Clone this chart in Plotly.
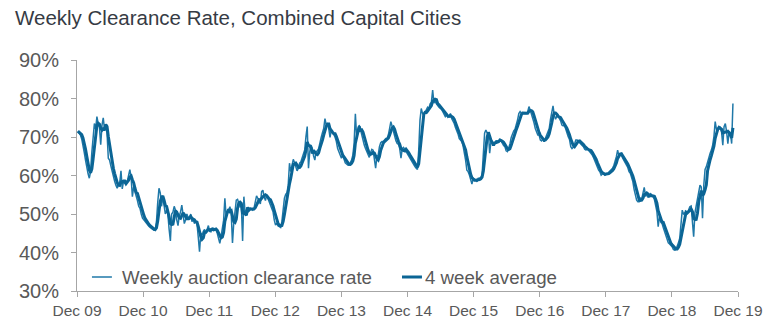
import pandas as pd
import plotly.graph_objects as go

# Weekly auction clearance rate (%), combined capital cities, one list per year of weeks
rate_2010 = [71.5, 71.0, 70.5, 69.5, 68.0, 66.0, 64.0, 62.0, 60.5, 59.3, 61.0, 66.0, 71.0,
             73.5, 72.0, 75.3, 73.5, 72.5, 68.0, 73.0, 75.0, 72.0, 73.0, 71.0, 64.5, 64.0,
             62.5, 61.0, 60.0, 58.5, 57.5, 56.7, 57.5, 58.0, 61.2, 56.5, 58.5, 58.0, 58.5,
             58.5, 60.0, 61.5, 59.5, 54.5, 57.0, 56.0, 55.0, 53.5, 52.0, 51.5, 50.0, 48.9]
rate_2011 = [48.5, 48.0, 47.5, 47.0, 46.8, 46.5, 46.2, 46.0, 45.8, 45.8, 48.0, 53.0, 56.7,
             55.5, 52.0, 54.5, 52.5, 50.0, 51.0, 50.0, 46.0, 43.0, 50.0, 50.5, 52.0, 51.0,
             48.5, 47.0, 49.5, 50.5, 52.3, 49.0, 47.5, 48.5, 50.0, 49.0, 48.5, 50.0, 48.0,
             48.5, 47.5, 48.0, 47.5, 44.0, 40.2, 45.0, 44.5, 45.5, 46.0, 45.0, 46.0, 47.0]
rate_2012 = [45.5, 45.4, 46.3, 46.3, 46.0, 45.8, 45.0, 43.7, 42.4, 44.1, 45.8, 48.4, 54.1,
             49.3, 50.2, 51.2, 51.9, 50.2, 42.5, 47.6, 51.0, 53.6, 53.8, 53.0, 51.9, 52.2,
             43.0, 54.5, 50.2, 51.0, 51.2, 51.5, 51.5, 51.2, 51.0, 51.5, 52.8, 54.7, 54.1,
             53.2, 52.6, 55.8, 56.2, 54.5, 53.5, 54.9, 54.1, 53.2, 52.6, 51.9, 50.6, 48.4]
rate_2013 = [47.1, 47.6, 46.9, 46.7, 46.5, 48.0, 51.0, 54.1, 55.1, 55.5, 57.5, 63.2, 61.0,
             63.2, 64.2, 63.3, 62.1, 61.2, 61.9, 63.2, 63.6, 64.5, 65.3, 66.6, 70.1, 72.7,
             61.9, 66.2, 67.9, 67.0, 65.1, 64.0, 66.2, 66.4, 67.0, 68.8, 69.9, 71.1, 72.2,
             74.8, 73.1, 73.4, 72.2, 69.9, 71.8, 71.1, 70.7, 69.9, 68.8, 67.0, 66.2, 65.3]
rate_2014 = [64.5, 65.3, 64.2, 63.3, 63.0, 62.7, 62.7, 63.2, 64.0, 65.3, 68.3, 76.0, 70.0,
             71.8, 73.1, 72.0, 70.5, 69.4, 67.9, 67.0, 66.2, 65.3, 64.7, 65.9, 66.8, 66.6,
             64.0, 61.9, 64.9, 65.3, 67.5, 68.5, 68.8, 68.8, 69.2, 69.6, 69.6, 70.5, 72.2,
             74.0, 72.8, 71.4, 69.9, 69.0, 68.3, 68.1, 67.0, 64.5, 67.0, 67.3, 66.8, 66.2]
rate_2015 = [65.8, 65.1, 64.5, 63.8, 63.3, 62.7, 62.3, 61.9, 61.6, 66.6, 74.4, 77.4, 76.1,
             75.7, 76.4, 77.2, 77.7, 77.4, 78.6, 79.0, 82.2, 78.8, 79.2, 78.6, 78.0, 77.7,
             77.4, 77.2, 76.6, 75.9, 75.3, 75.7, 75.1, 75.4, 76.1, 74.8, 74.2, 73.5, 72.5,
             71.8, 70.8, 69.6, 69.0, 68.8, 67.7, 66.2, 64.0, 61.4, 61.0, 60.1, 58.8, 57.8]
rate_2016 = [59.3, 59.1, 58.8, 58.4, 59.3, 59.3, 59.5, 60.1, 65.8, 71.0, 71.8, 71.1, 71.0,
             65.8, 68.8, 68.8, 67.9, 68.3, 69.0, 69.0, 68.8, 69.6, 69.0, 68.2, 67.8, 67.5,
             66.4, 66.2, 67.0, 68.2, 69.9, 71.0, 71.6, 72.0, 73.1, 74.4, 76.1, 76.6, 76.1,
             76.1, 76.1, 76.0, 76.1, 76.5, 77.9, 77.0, 76.0, 75.3, 73.7, 72.2, 71.4, 70.5]
rate_2017 = [70.5, 69.2, 69.0, 69.6, 68.8, 69.6, 70.5, 71.1, 72.2, 74.6, 76.6, 78.1, 75.7,
             74.6, 75.4, 75.7, 74.8, 74.2, 73.1, 72.9, 73.1, 72.0, 70.8, 70.1, 69.4, 67.5,
             67.0, 67.3, 68.2, 69.2, 69.2, 69.0, 68.5, 68.2, 67.9, 67.5, 66.8, 66.6, 67.0,
             66.6, 66.4, 65.9, 65.3, 64.6, 63.8, 63.2, 61.9, 61.4, 61.0, 60.1, 60.4, 60.6]
rate_2018 = [60.1, 60.5, 60.5, 60.8, 61.2, 61.4, 61.9, 62.6, 63.6, 64.9, 66.6, 65.1, 65.6,
             65.3, 64.5, 64.0, 63.3, 62.7, 62.1, 61.0, 60.6, 59.5, 58.4, 56.4, 54.9, 53.6,
             53.2, 53.2, 54.1, 53.8, 55.4, 56.9, 54.7, 54.9, 54.3, 54.7, 55.4, 54.7, 54.5,
             53.8, 52.3, 50.6, 46.7, 49.3, 48.0, 47.6, 46.5, 45.4, 44.1, 43.1, 42.5, 42.2]
rate_2019 = [41.9, 41.5, 40.8, 40.6, 40.8, 41.5, 42.5, 43.7, 47.6, 51.0, 50.0, 50.3, 50.6,
             50.2, 51.0, 51.9, 52.1, 47.6, 44.1, 50.3, 52.3, 54.1, 55.8, 57.5, 57.0, 48.9,
             57.5, 61.6, 62.3, 63.6, 64.7, 65.8, 66.6, 67.9, 70.1, 74.0, 72.0, 71.8, 72.2,
             72.7, 71.4, 67.9, 72.7, 73.5, 71.4, 68.3, 71.4, 71.1, 68.3, 78.7]

first_week = "2009-12-06"
tick_dates = ["2009-12-01", "2010-12-01", "2011-12-01", "2012-12-01", "2013-12-01", "2014-12-01",
              "2015-12-01", "2016-12-01", "2017-12-01", "2018-12-01", "2019-12-01"]
tick_text = ["Dec 09", "Dec 10", "Dec 11", "Dec 12", "Dec 13", "Dec 14",
             "Dec 15", "Dec 16", "Dec 17", "Dec 18", "Dec 19"]
y_ticks = [30, 40, 50, 60, 70, 80, 90]
y_tick_text = ["30%", "40%", "50%", "60%", "70%", "80%", "90%"]

weekly = (rate_2010 + rate_2011 + rate_2012 + rate_2013 + rate_2014 + rate_2015
          + rate_2016 + rate_2017 + rate_2018 + rate_2019)
weeks = pd.date_range(first_week, periods=len(weekly), freq="7D")
four_week_avg = pd.Series(weekly).rolling(4, min_periods=1).mean()

FONT = "Liberation Sans, Arial, sans-serif"
THIN = "#1f78a8"
THICK = "#0b6595"
GREY_TXT = "#595959"
AXIS = "#a6a6a6"
THIN_W, THICK_W = 1.5, 3.0

W, H = 775, 335
L, R, T, B = 77, 35, 60, 44
PW, PH = W - L - R, H - T - B


def px(x):
    return (x - L) / PW


def py(y):
    return (H - B - y) / PH


fig = go.Figure()
fig.add_trace(go.Scatter(x=weeks, y=weekly, mode="lines", name="Weekly auction clearance rate",
                         line=dict(color=THIN, width=THIN_W), showlegend=False))
fig.add_trace(go.Scatter(x=weeks, y=four_week_avg, mode="lines", name="4 week average",
                         line=dict(color=THICK, width=THICK_W), showlegend=False))

# legend drawn in the lower-left of the plot
legend_y = 277
fig.add_shape(type="line", xref="paper", yref="paper", x0=px(92), x1=px(112),
              y0=py(legend_y), y1=py(legend_y), line=dict(color=THIN, width=THIN_W))
fig.add_shape(type="line", xref="paper", yref="paper", x0=px(403), x1=px(423),
              y0=py(legend_y), y1=py(legend_y), line=dict(color=THICK, width=THICK_W))
fig.add_annotation(xref="paper", yref="paper", x=px(120), y=py(legend_y), xanchor="left",
                   yanchor="middle", text="Weekly auction clearance rate", showarrow=False,
                   font=dict(family=FONT, size=18.7, color=GREY_TXT))
fig.add_annotation(xref="paper", yref="paper", x=px(424), y=py(legend_y), xanchor="left",
                   yanchor="middle", text="4 week average", showarrow=False,
                   font=dict(family=FONT, size=18.7, color=GREY_TXT))

fig.update_layout(
    width=W, height=H, autosize=False,
    margin=dict(l=L, r=R, t=T, b=B, pad=0),
    paper_bgcolor="white", plot_bgcolor="white",
    title=dict(text="Weekly Clearance Rate, Combined Capital Cities",
               xref="container", yref="container", x=15 / W, y=1 - 18 / H,
               xanchor="left", yanchor="middle",
               font=dict(family=FONT, size=20.5, color="#363b44")),
    xaxis=dict(type="date", range=[tick_dates[0], tick_dates[-1]],
               tickvals=tick_dates, ticktext=tick_text,
               showline=True, linecolor=AXIS, linewidth=1,
               ticks="outside", ticklen=5, tickcolor=AXIS,
               showgrid=False, zeroline=False,
               tickfont=dict(family=FONT, size=15.5, color=GREY_TXT)),
    yaxis=dict(range=[30, 90], tickvals=y_ticks, ticktext=y_tick_text,
               showline=True, linecolor=AXIS, linewidth=1,
               ticks="outside", ticklen=5, tickcolor=AXIS,
               showgrid=False, zeroline=False, ticklabelstandoff=8,
               tickfont=dict(family=FONT, size=20, color=GREY_TXT)),
)

fig.write_html("out.html")
